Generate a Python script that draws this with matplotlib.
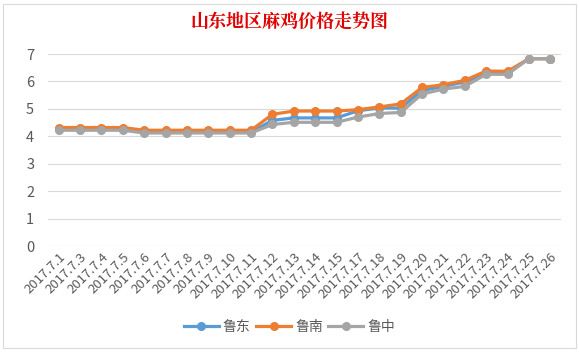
import matplotlib
matplotlib.use('Agg')
import matplotlib.pyplot as plt
from matplotlib.patches import Rectangle

plt.rcParams['font.family'] = ['Noto Sans CJK SC', 'DejaVu Sans']

# 日期标签
dates = ['2017.7.1', '2017.7.3', '2017.7.4', '2017.7.5', '2017.7.6', '2017.7.7',
         '2017.7.8', '2017.7.9', '2017.7.10', '2017.7.11', '2017.7.12', '2017.7.13',
         '2017.7.14', '2017.7.15', '2017.7.17', '2017.7.18', '2017.7.19', '2017.7.20',
         '2017.7.21', '2017.7.22', '2017.7.23', '2017.7.24', '2017.7.25', '2017.7.26']

# 各地区价格
lu_dong = [4.25, 4.25, 4.25, 4.25, 4.15, 4.15, 4.15, 4.15, 4.15, 4.15, 4.58, 4.67,
           4.67, 4.67, 4.93, 5.03, 5.03, 5.67, 5.82, 5.98, 6.3, 6.3, 6.83, 6.83]
lu_nan = [4.32, 4.32, 4.32, 4.32, 4.22, 4.22, 4.22, 4.22, 4.22, 4.22, 4.8, 4.92,
          4.92, 4.92, 4.97, 5.07, 5.18, 5.78, 5.88, 6.04, 6.38, 6.37, 6.83, 6.83]
lu_zhong = [4.22, 4.22, 4.22, 4.22, 4.12, 4.12, 4.12, 4.12, 4.12, 4.12, 4.43, 4.51,
            4.51, 4.51, 4.7, 4.83, 4.87, 5.54, 5.72, 5.82, 6.26, 6.26, 6.83, 6.83]

fig = plt.figure(figsize=(5.79, 3.52), dpi=100)
fig.patches.append(Rectangle((0.005, 0.01), 0.99, 0.98, transform=fig.transFigure,
                             fill=False, edgecolor='#d9d9d9', linewidth=0.8))
ax = fig.add_axes([48 / 579, 1 - 246 / 352, (561 - 48) / 579, (246 - 54) / 352])

x = list(range(len(dates)))
series = [(lu_dong, '鲁东', '#5B9BD5'), (lu_nan, '鲁南', '#ED7D31'), (lu_zhong, '鲁中', '#A5A5A5')]
for vals, name, color in series:
    ax.plot(x, vals, '-o', color=color, linewidth=2.3, markersize=5.5, label=name)

ax.set_xlim(-0.5, len(dates) - 0.5)
ax.set_ylim(0, 7)
ax.set_yticks(range(8))
ax.set_xticks(x)
ax.set_xticklabels(dates, rotation=45, ha='right', rotation_mode='anchor')
ax.tick_params(axis='both', length=0, colors='#595959', labelsize=9.5)
ax.tick_params(axis='x', pad=3)
ax.tick_params(axis='y', pad=10, labelsize=10.5)
ax.grid(axis='y', color='#d9d9d9', linewidth=0.8)
ax.set_axisbelow(True)
for s in ax.spines.values():
    s.set_visible(False)

fig.text(0.5, 0.935, '山东地区麻鸡价格走势图', ha='center', va='center',
         color='#e00000', fontsize=13, fontweight='bold',
         family=['Noto Serif CJK SC', 'Noto Sans CJK SC'])

fig.legend(loc='center', bbox_to_anchor=(0.5, 0.07), ncol=3, frameon=False,
           fontsize=10, handlelength=2.5, columnspacing=0.4, handletextpad=0.3,
           labelcolor='#595959')

fig.savefig('out.png', dpi=100)
